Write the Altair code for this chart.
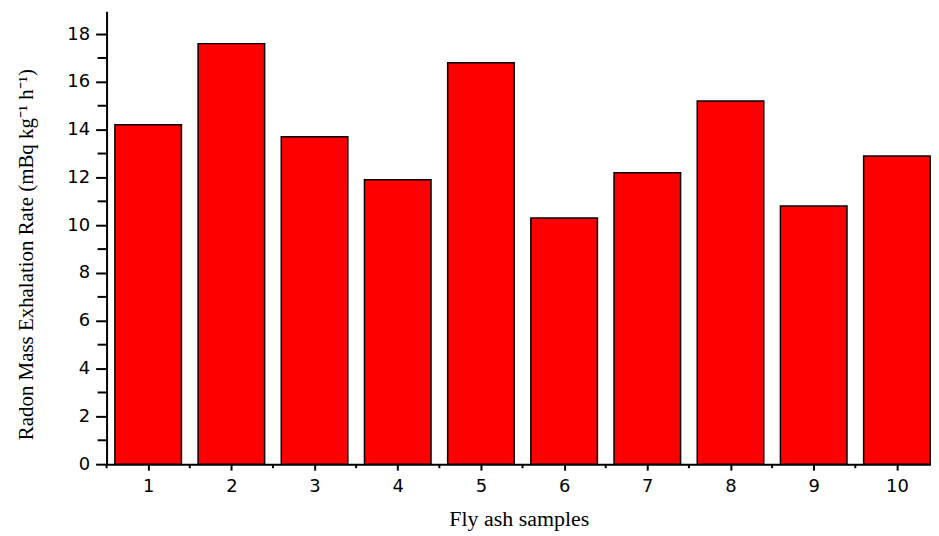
import altair as alt
import pandas as pd

samples = [1, 2, 3, 4, 5, 6, 7, 8, 9, 10]
rates = [14.2, 17.6, 13.7, 11.9, 16.8, 10.3, 12.2, 15.2, 10.8, 12.9]
y_major = [0, 2, 4, 6, 8, 10, 12, 14, 16, 18]
y_minor = [1, 3, 5, 7, 9, 11, 13, 15, 17]
x_minor = [0.5, 1.5, 2.5, 3.5, 4.5, 5.5, 6.5, 7.5, 8.5, 9.5]

W, H = 828, 455
x_scale = alt.Scale(domain=[0.5, 10.41], nice=False, zero=False)
y_scale = alt.Scale(domain=[0, 18.96], nice=False)

df = pd.DataFrame({"sample": samples, "rate": rates})

bars = alt.Chart(df).transform_calculate(
    x0="datum.sample - 0.4", x1="datum.sample + 0.4"
).mark_bar(color="#ff0000", stroke="black", strokeWidth=1.5).encode(
    x=alt.X("x0:Q", scale=x_scale, axis=alt.Axis(
        title="Fly ash samples", values=samples, format="d", grid=False,
        tickSize=6, tickWidth=2, domainWidth=2, domainColor="black", tickColor="black",
        labelFont="DejaVu Sans", labelFontSize=18, labelColor="black", labelPadding=7,
        titleFont="Liberation Serif", titleFontSize=22, titleFontWeight="normal",
        titleColor="black", titleY=62, titleBaseline="alphabetic")),
    x2="x1:Q",
    y=alt.Y("rate:Q", scale=y_scale, axis=alt.Axis(
        title="Radon Mass Exhalation Rate (mBq kg⁻¹ h⁻¹)", values=y_major, grid=False,
        tickSize=11, tickWidth=2, domainWidth=2, domainColor="black", tickColor="black",
        labelFont="DejaVu Sans", labelFontSize=18, labelColor="black", labelPadding=6,
        titleFont="Liberation Serif", titleFontSize=21, titleFontWeight="normal",
        titleColor="black", titleX=-70, titleY=244, titleBaseline="bottom")),
    y2=alt.datum(0),
)

ymin = alt.Chart(pd.DataFrame({"v": y_minor})).mark_rule(color="black", strokeWidth=2).encode(
    y=alt.Y("v:Q", scale=y_scale), x=alt.value(-9), x2=alt.value(0)
)
xmin = alt.Chart(pd.DataFrame({"v": x_minor})).mark_rule(color="black", strokeWidth=2).encode(
    x=alt.X("v:Q", scale=x_scale), y=alt.value(H), y2=alt.value(H + 4)
)

chart = alt.layer(bars, ymin, xmin).properties(
    width=W, height=H,
    autosize=alt.AutoSizeParams(type="none"),
    padding={"left": 99, "top": 2, "right": 0, "bottom": 70},
).configure_view(stroke=None)

chart.save("out.html", embed_options={"renderer": "svg", "actions": False})
